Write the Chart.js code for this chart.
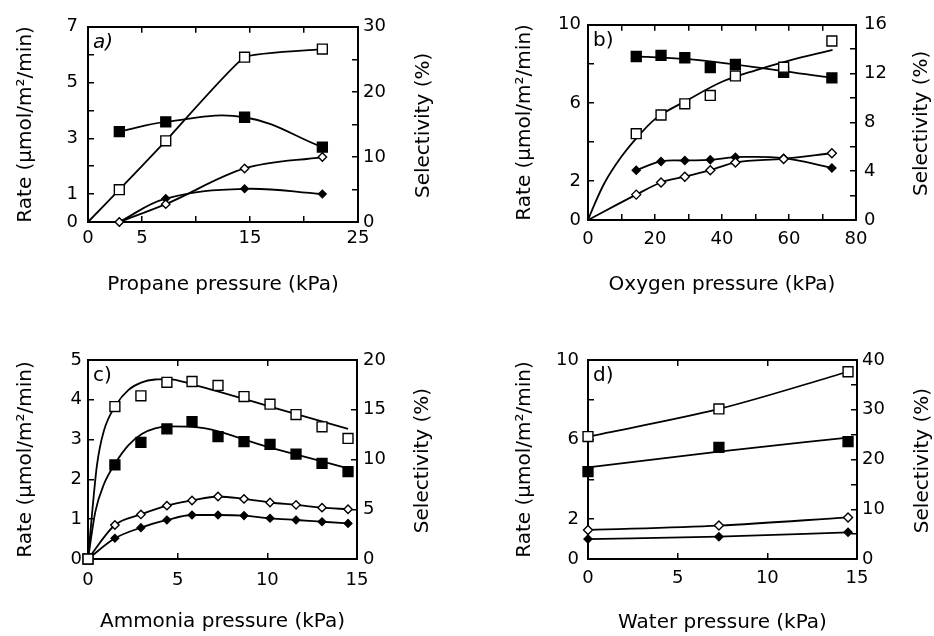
<!DOCTYPE html>
<html>
<head>
<meta charset="utf-8">
<script src="https://cdn.jsdelivr.net/npm/chart.js@4"></script>
<style>
  body { margin: 0; background: #fff; }
  #wrap { position: relative; width: 934px; height: 636px; }
  canvas { position: absolute; }
</style>
</head>
<body>
<div id="wrap">
  <canvas id="panelA" width="467" height="318" style="left:0;top:0"></canvas>
  <canvas id="panelB" width="467" height="318" style="left:467px;top:0"></canvas>
  <canvas id="panelC" width="467" height="318" style="left:0;top:318px"></canvas>
  <canvas id="panelD" width="467" height="318" style="left:467px;top:318px"></canvas>
</div>
<script>
// a) propane pressure
const aP = [2.9, 7.2, 14.5, 21.7];
const aRateSq = [1.16, 2.91, 5.91, 6.2];
const aSelSq = [13.9, 15.4, 16.1, 11.5];
const aRateDia = [0, 0.64, 1.92, 2.33];
const aSelDia = [0, 3.6, 5.1, 4.3];

// b) oxygen pressure
const bP = [14.4, 21.8, 28.9, 36.5, 44.0, 58.4, 72.8];
const bRateSq = [4.42, 5.38, 5.95, 6.38, 7.38, 7.83, 9.17];
const bSelSq = [13.4, 13.5, 13.3, 12.5, 12.75, 12.1, 11.65];
const bRateDia = [1.3, 1.92, 2.22, 2.55, 2.95, 3.13, 3.42];
const bSelDia = [4.08, 4.8, 4.88, 4.93, 5.15, 5.07, 4.27];
// fitted curves
const bFitP = [0, 2, 5, 10, 15, 20, 30, 40, 50, 60, 73];
const bFitRate = [0, 0.83, 1.92, 3.25, 4.3, 5.17, 6.17, 7.08, 7.67, 8.17, 8.72];
const bSelFitP = [14.1, 29, 73];
const bSelFit = [13.42, 13.2, 11.66];

// c) ammonia pressure
const cP = [0, 1.5, 2.95, 4.4, 5.8, 7.25, 8.7, 10.15, 11.6, 13.05, 14.5];
const cRateSq = [0, 3.83, 4.10, 4.44, 4.46, 4.36, 4.08, 3.89, 3.63, 3.32, 3.03];
const cSelSq = [0, 9.45, 11.73, 13.07, 13.8, 12.29, 11.79, 11.52, 10.55, 9.61, 8.78];
const cRateDia = [0, 0.854, 1.12, 1.34, 1.47, 1.57, 1.51, 1.42, 1.36, 1.29, 1.25];
const cSelDia = [0, 2.08, 3.15, 3.92, 4.42, 4.42, 4.36, 4.09, 3.92, 3.75, 3.58];
// fitted curves
const cFitP = [0, 0.22, 0.5, 0.87, 1.56, 2.26, 3.0, 3.74, 4.48, 5.81, 10, 14.5];
const cFitRate = [0, 1.11, 2.36, 3.2, 3.87, 4.25, 4.44, 4.51, 4.52, 4.39, 3.85, 3.27];
const cSelFitP = [0, 0.41, 0.87, 1.56, 2.26, 3.0, 3.74, 4.48, 5.81, 10, 14.5];
const cSelFit = [0, 4.76, 7.44, 9.72, 11.44, 12.56, 13.12, 13.32, 13.28, 11.28, 9.12];

// d) water pressure
const dP = [0, 7.3, 14.5];
const dRateSq = [6.15, 7.54, 9.41];
const dSelSq = [17.55, 22.45, 23.6];
const dRateDia = [1.46, 1.68, 2.09];
const dSelDia = [4.0, 4.49, 5.36];
const dSelFit = [18.4, 21.6, 24.4];

Chart.defaults.font.family = "'DejaVu Sans', sans-serif";
Chart.defaults.color = "#000";
Chart.defaults.animation = false;

function pts(xs, ys) {
  return xs.map((x, i) => ({x: x, y: ys[i]}));
}

// curve without markers ("mono" = monotone spline, otherwise bezier with given tension)
function line(xs, ys, axis, mode, tension) {
  return {
    data: pts(xs, ys), xAxisID: "x", yAxisID: axis,
    showLine: true, borderColor: "#000", borderWidth: 1.8, pointRadius: 0,
    cubicInterpolationMode: mode === "mono" ? "monotone" : "default",
    tension: mode === "mono" ? 0 : (tension || 0.4),
    clip: false, order: 3
  };
}

// markers only
function marks(xs, ys, axis, shape, filled, r, order) {
  return {
    data: pts(xs, ys), xAxisID: "x", yAxisID: axis, showLine: false,
    pointStyle: shape, pointRadius: r,
    pointBackgroundColor: filled ? "#000" : "#fff",
    pointBorderColor: "#000", pointBorderWidth: 1.4,
    clip: false, order: order
  };
}

function onlyLabels(list) {
  return v => (list.indexOf(v) >= 0 ? String(v) : "");
}

const gridStyle = {drawOnChartArea: false, drawTicks: true, tickLength: -6, color: "#000", lineWidth: 1.5};
const borderStyle = {display: true, color: "#000", width: 2};

// panel letter in the upper left corner + right axis title reading upwards
const tagPlugin = {
  id: "panelTag",
  afterDatasetsDraw(chart, args, opts) {
    const ctx = chart.ctx;
    const area = chart.chartArea;
    ctx.save();
    ctx.font = (opts.italic ? "italic " : "") + "20px 'DejaVu Sans'";
    ctx.fillStyle = "#000";
    ctx.textBaseline = "top";
    ctx.fillText(opts.text, area.left + 5, area.top + 6);
    ctx.restore();

    ctx.save();
    ctx.font = "20px 'DejaVu Sans'";
    ctx.fillStyle = "#000";
    ctx.textAlign = "center";
    ctx.textBaseline = "middle";
    ctx.translate(area.right + 66, (area.top + area.bottom) / 2 + 1);
    ctx.rotate(-Math.PI / 2);
    ctx.fillText(opts.rightTitle, 0, 0);
    ctx.restore();
  }
};

function makePanel(id, o) {
  const scales = {
    x: {
      type: "linear", position: "bottom", min: 0, max: o.x.max,
      ticks: {stepSize: o.x.step, autoSkip: false, maxRotation: 0, padding: o.x.pad, font: {size: 18}, callback: onlyLabels(o.x.labels)},
      grid: gridStyle, border: borderStyle,
      title: {display: true, text: o.x.title, font: {size: 20}, padding: {top: 0, bottom: o.x.titlePad}},
      afterFit: s => { s.height = o.box.bottom; }
    },
    xTop: {
      type: "linear", position: "top", min: 0, max: o.x.max,
      ticks: {stepSize: o.x.step, display: false},
      grid: gridStyle, border: borderStyle,
      afterFit: s => { s.height = o.box.top; }
    },
    y: {
      type: "linear", position: "left", min: 0, max: o.y.max,
      ticks: {stepSize: o.y.step, autoSkip: false, padding: o.y.pad, font: {size: 18}, callback: onlyLabels(o.y.labels)},
      grid: gridStyle, border: borderStyle,
      title: {display: true, text: "Rate (\u03bcmol/m\u00b2/min)", font: {size: 20}, padding: {top: o.y.titlePad, bottom: 0}},
      afterFit: s => { s.width = o.box.left; }
    },
    y2: {
      type: "linear", position: "right", min: 0, max: o.y2.max,
      ticks: {stepSize: o.y2.step, autoSkip: false, padding: o.y2.pad, font: {size: 18}, callback: onlyLabels(o.y2.labels)},
      grid: gridStyle, border: borderStyle,
      afterFit: s => { s.width = o.box.right; }
    }
  };
  return new Chart(document.getElementById(id), {
    type: "scatter",
    data: {datasets: o.datasets},
    options: {
      responsive: false,
      events: [],
      layout: {padding: 0},
      scales: scales,
      plugins: {
        legend: {display: false},
        tooltip: {enabled: false},
        panelTag: {text: o.tag, italic: o.italic, rightTitle: "Selectivity (%)"}
      }
    },
    plugins: [tagPlugin]
  });
}

// a)
makePanel("panelA", {
  box: {left: 88, right: 109, top: 22, bottom: 96},
  x: {max: 25, step: 5, labels: [0, 5, 15, 25], pad: 12, title: "Propane pressure (kPa)", titlePad: 21},
  y: {max: 7, step: 1, labels: [0, 1, 3, 5, 7], pad: 16, titlePad: 14},
  y2: {max: 30, step: 5, labels: [0, 10, 20, 30], pad: 11},
  tag: "a)", italic: true,
  datasets: [
    line([0].concat(aP), [0].concat(aRateSq), "y", "bez", 0.12),
    line(aP, aSelSq, "y2", "bez"),
    line(aP, aRateDia, "y", "mono"),
    line(aP, aSelDia, "y2", "bez"),
    marks(aP, aRateSq, "y", "rect", false, 7, 0),
    marks(aP, aSelSq, "y2", "rect", true, 7, 1),
    marks(aP, aRateDia, "y", "rectRot", false, 4.2, 0),
    marks(aP, aSelDia, "y2", "rectRot", true, 3.8, 1)
  ]
});

// b)
makePanel("panelB", {
  box: {left: 121, right: 78, top: 21, bottom: 98},
  x: {max: 80, step: 10, labels: [0, 20, 40, 60, 80], pad: 15, title: "Oxygen pressure (kPa)", titlePad: 21},
  y: {max: 10, step: 2, labels: [0, 2, 6, 10], pad: 13, titlePad: 46},
  y2: {max: 16, step: 2, labels: [0, 4, 8, 12, 16], pad: 14},
  tag: "b)",
  datasets: [
    line(bFitP, bFitRate, "y", "mono"),
    line(bSelFitP, bSelFit, "y2", "mono"),
    line([0].concat(bP), [0].concat(bRateDia), "y", "mono"),
    line(bP, bSelDia, "y2", "bez"),
    marks(bP, bRateSq, "y", "rect", false, 7, 0),
    marks(bP, bSelSq, "y2", "rect", true, 7, 1),
    marks(bP, bRateDia, "y", "rectRot", false, 4.5, 0),
    marks(bP, bSelDia, "y2", "rectRot", true, 4, 1)
  ]
});

// c)
makePanel("panelC", {
  box: {left: 88, right: 110, top: 42, bottom: 77},
  x: {max: 15, step: 5, labels: [0, 5, 10, 15], pad: 17, title: "Ammonia pressure (kPa)", titlePad: 2},
  y: {max: 5, step: 1, labels: [0, 1, 2, 3, 4, 5], pad: 12, titlePad: 14},
  y2: {max: 20, step: 5, labels: [0, 5, 10, 15, 20], pad: 12},
  tag: "c)",
  datasets: [
    line(cFitP, cFitRate, "y", "mono"),
    line(cSelFitP, cSelFit, "y2", "mono"),
    line(cP, cRateDia, "y", "mono"),
    line(cP, cSelDia, "y2", "mono"),
    marks(cP, cRateSq, "y", "rect", false, 7, 0),
    marks(cP, cSelSq, "y2", "rect", true, 7, 1),
    marks(cP, cRateDia, "y", "rectRot", false, 4.2, 0),
    marks(cP, cSelDia, "y2", "rectRot", true, 3.8, 1)
  ]
});

// d)
makePanel("panelD", {
  box: {left: 121, right: 77, top: 42, bottom: 77},
  x: {max: 15, step: 5, labels: [0, 5, 10, 15], pad: 15, title: "Water pressure (kPa)", titlePad: 1},
  y: {max: 10, step: 2, labels: [0, 2, 6, 10], pad: 15, titlePad: 46},
  y2: {max: 40, step: 5, labels: [0, 10, 20, 30, 40], pad: 11},
  tag: "d)",
  datasets: [
    line(dP, dRateSq, "y", "mono"),
    line(dP, dSelFit, "y2", "mono"),
    line(dP, dRateDia, "y", "mono"),
    line(dP, dSelDia, "y2", "mono"),
    marks(dP, dRateSq, "y", "rect", false, 7, 0),
    marks(dP, dSelSq, "y2", "rect", true, 7, 1),
    marks(dP, dRateDia, "y", "rectRot", false, 4.5, 0),
    marks(dP, dSelDia, "y2", "rectRot", true, 4, 1)
  ]
});
</script>
</body>
</html>
